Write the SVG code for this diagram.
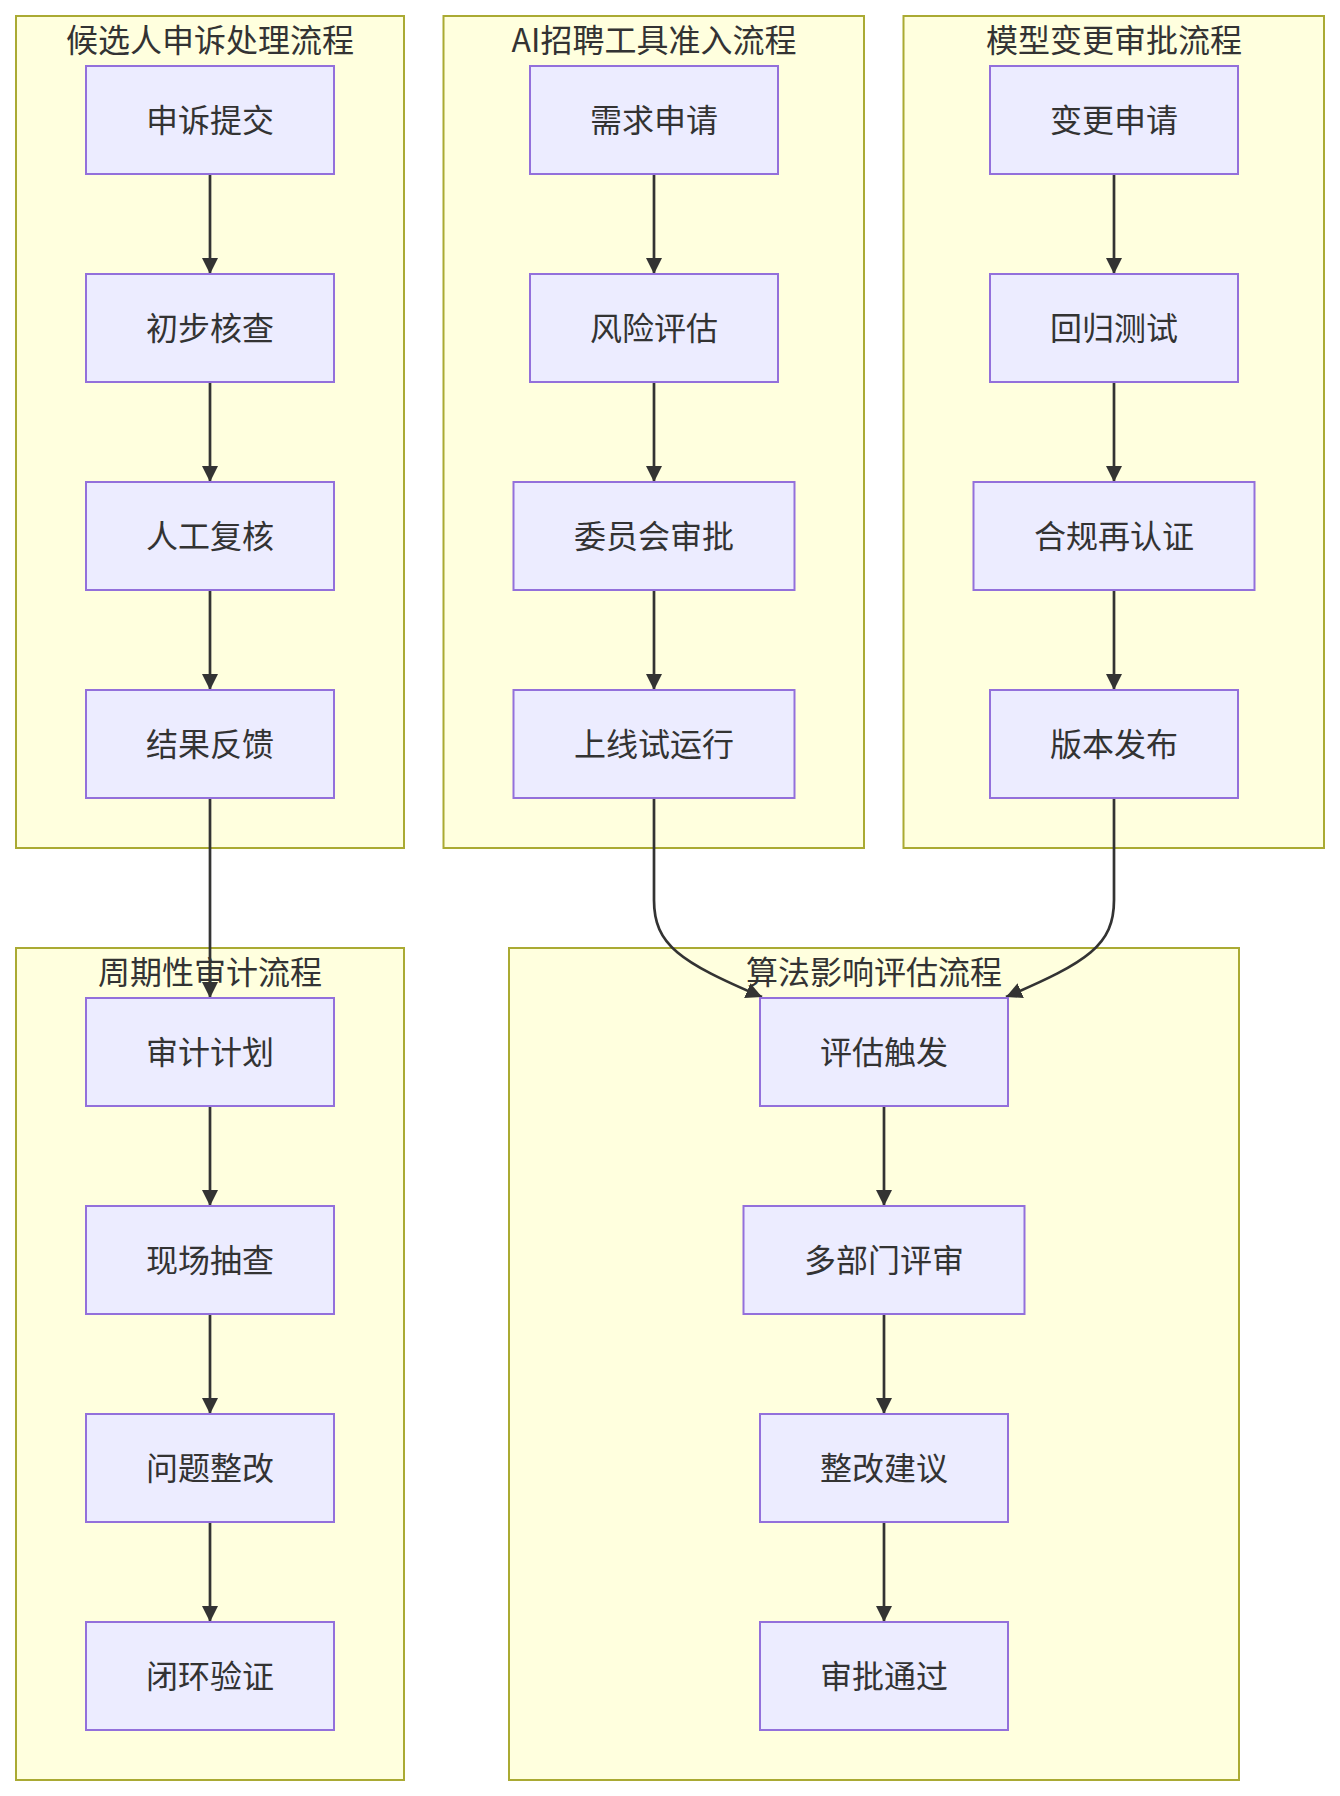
<svg xmlns="http://www.w3.org/2000/svg" width="1340" height="1796" viewBox="0 0 1340 1796">
<style>
.cluster rect{fill:#ffffde;stroke:#aaaa33;stroke-width:2}
.node rect{fill:#ECECFF;stroke:#9370DB;stroke-width:2}
text{font-family:"Noto Sans CJK SC","Noto Sans",sans-serif;font-size:32px;fill:#333333;text-anchor:middle}
.edge{fill:none;stroke:#333333;stroke-width:2.7;marker-end:url(#arrow)}
</style>
<defs>
<marker id="arrow" markerUnits="userSpaceOnUse" markerWidth="16" markerHeight="16" refX="16" refY="8" orient="auto" viewBox="0 0 16 16">
<path d="M0,0 L16,8 L0,16 z" fill="#333333"/>
</marker>
</defs>
<rect width="1340" height="1796" fill="#ffffff"/>
<g id="clusters">
<g id="cluster-appeal" class="cluster"><rect x="16" y="16" width="388" height="832"/><text x="210" y="52">候选人申诉处理流程</text></g>
<g id="cluster-access" class="cluster"><rect x="443.5" y="16" width="420.5" height="832"/><text x="654" y="52">AI招聘工具准入流程</text></g>
<g id="cluster-change" class="cluster"><rect x="903.5" y="16" width="420.5" height="832"/><text x="1114" y="52">模型变更审批流程</text></g>
<g id="cluster-audit" class="cluster"><rect x="16" y="948" width="388" height="832"/><text x="210" y="984">周期性审计流程</text></g>
<g id="cluster-impact" class="cluster"><rect x="509" y="948" width="730" height="832"/><text x="874" y="984">算法影响评估流程</text></g>
</g>
<g id="connectors">
<path class="edge" d="M210,174 L210,274"/>
<path class="edge" d="M210,382 L210,482"/>
<path class="edge" d="M210,590 L210,690"/>
<path class="edge" d="M210,798 L210,998"/>
<path class="edge" d="M210,1106 L210,1206"/>
<path class="edge" d="M210,1314 L210,1414"/>
<path class="edge" d="M210,1522 L210,1622"/>
<path class="edge" d="M654,174 L654,274"/>
<path class="edge" d="M654,382 L654,482"/>
<path class="edge" d="M654,590 L654,690"/>
<path class="edge" d="M1114,174 L1114,274"/>
<path class="edge" d="M1114,382 L1114,482"/>
<path class="edge" d="M1114,590 L1114,690"/>
<path class="edge" d="M884,1106 L884,1206"/>
<path class="edge" d="M884,1314 L884,1414"/>
<path class="edge" d="M884,1522 L884,1622"/>
<path class="edge" d="M654,798 L654,900 C654,945 680,962 762,997"/>
<path class="edge" d="M1114,798 L1114,900 C1114,945 1088,962 1006,997"/>
</g>
<g id="n-appeal1" class="node"><rect x="86" y="66" width="248" height="108"/><text x="210" y="132">申诉提交</text></g>
<g id="n-appeal2" class="node"><rect x="86" y="274" width="248" height="108"/><text x="210" y="340">初步核查</text></g>
<g id="n-appeal3" class="node"><rect x="86" y="482" width="248" height="108"/><text x="210" y="548">人工复核</text></g>
<g id="n-appeal4" class="node"><rect x="86" y="690" width="248" height="108"/><text x="210" y="756">结果反馈</text></g>
<g id="n-access1" class="node"><rect x="530" y="66" width="248" height="108"/><text x="654" y="132">需求申请</text></g>
<g id="n-access2" class="node"><rect x="530" y="274" width="248" height="108"/><text x="654" y="340">风险评估</text></g>
<g id="n-access3" class="node"><rect x="513.5" y="482" width="281" height="108"/><text x="654" y="548">委员会审批</text></g>
<g id="n-access4" class="node"><rect x="513.5" y="690" width="281" height="108"/><text x="654" y="756">上线试运行</text></g>
<g id="n-change1" class="node"><rect x="990" y="66" width="248" height="108"/><text x="1114" y="132">变更申请</text></g>
<g id="n-change2" class="node"><rect x="990" y="274" width="248" height="108"/><text x="1114" y="340">回归测试</text></g>
<g id="n-change3" class="node"><rect x="973.5" y="482" width="281" height="108"/><text x="1114" y="548">合规再认证</text></g>
<g id="n-change4" class="node"><rect x="990" y="690" width="248" height="108"/><text x="1114" y="756">版本发布</text></g>
<g id="n-audit1" class="node"><rect x="86" y="998" width="248" height="108"/><text x="210" y="1064">审计计划</text></g>
<g id="n-audit2" class="node"><rect x="86" y="1206" width="248" height="108"/><text x="210" y="1272">现场抽查</text></g>
<g id="n-audit3" class="node"><rect x="86" y="1414" width="248" height="108"/><text x="210" y="1480">问题整改</text></g>
<g id="n-audit4" class="node"><rect x="86" y="1622" width="248" height="108"/><text x="210" y="1688">闭环验证</text></g>
<g id="n-impact1" class="node"><rect x="760" y="998" width="248" height="108"/><text x="884" y="1064">评估触发</text></g>
<g id="n-impact2" class="node"><rect x="743.5" y="1206" width="281" height="108"/><text x="884" y="1272">多部门评审</text></g>
<g id="n-impact3" class="node"><rect x="760" y="1414" width="248" height="108"/><text x="884" y="1480">整改建议</text></g>
<g id="n-impact4" class="node"><rect x="760" y="1622" width="248" height="108"/><text x="884" y="1688">审批通过</text></g>
</svg>
